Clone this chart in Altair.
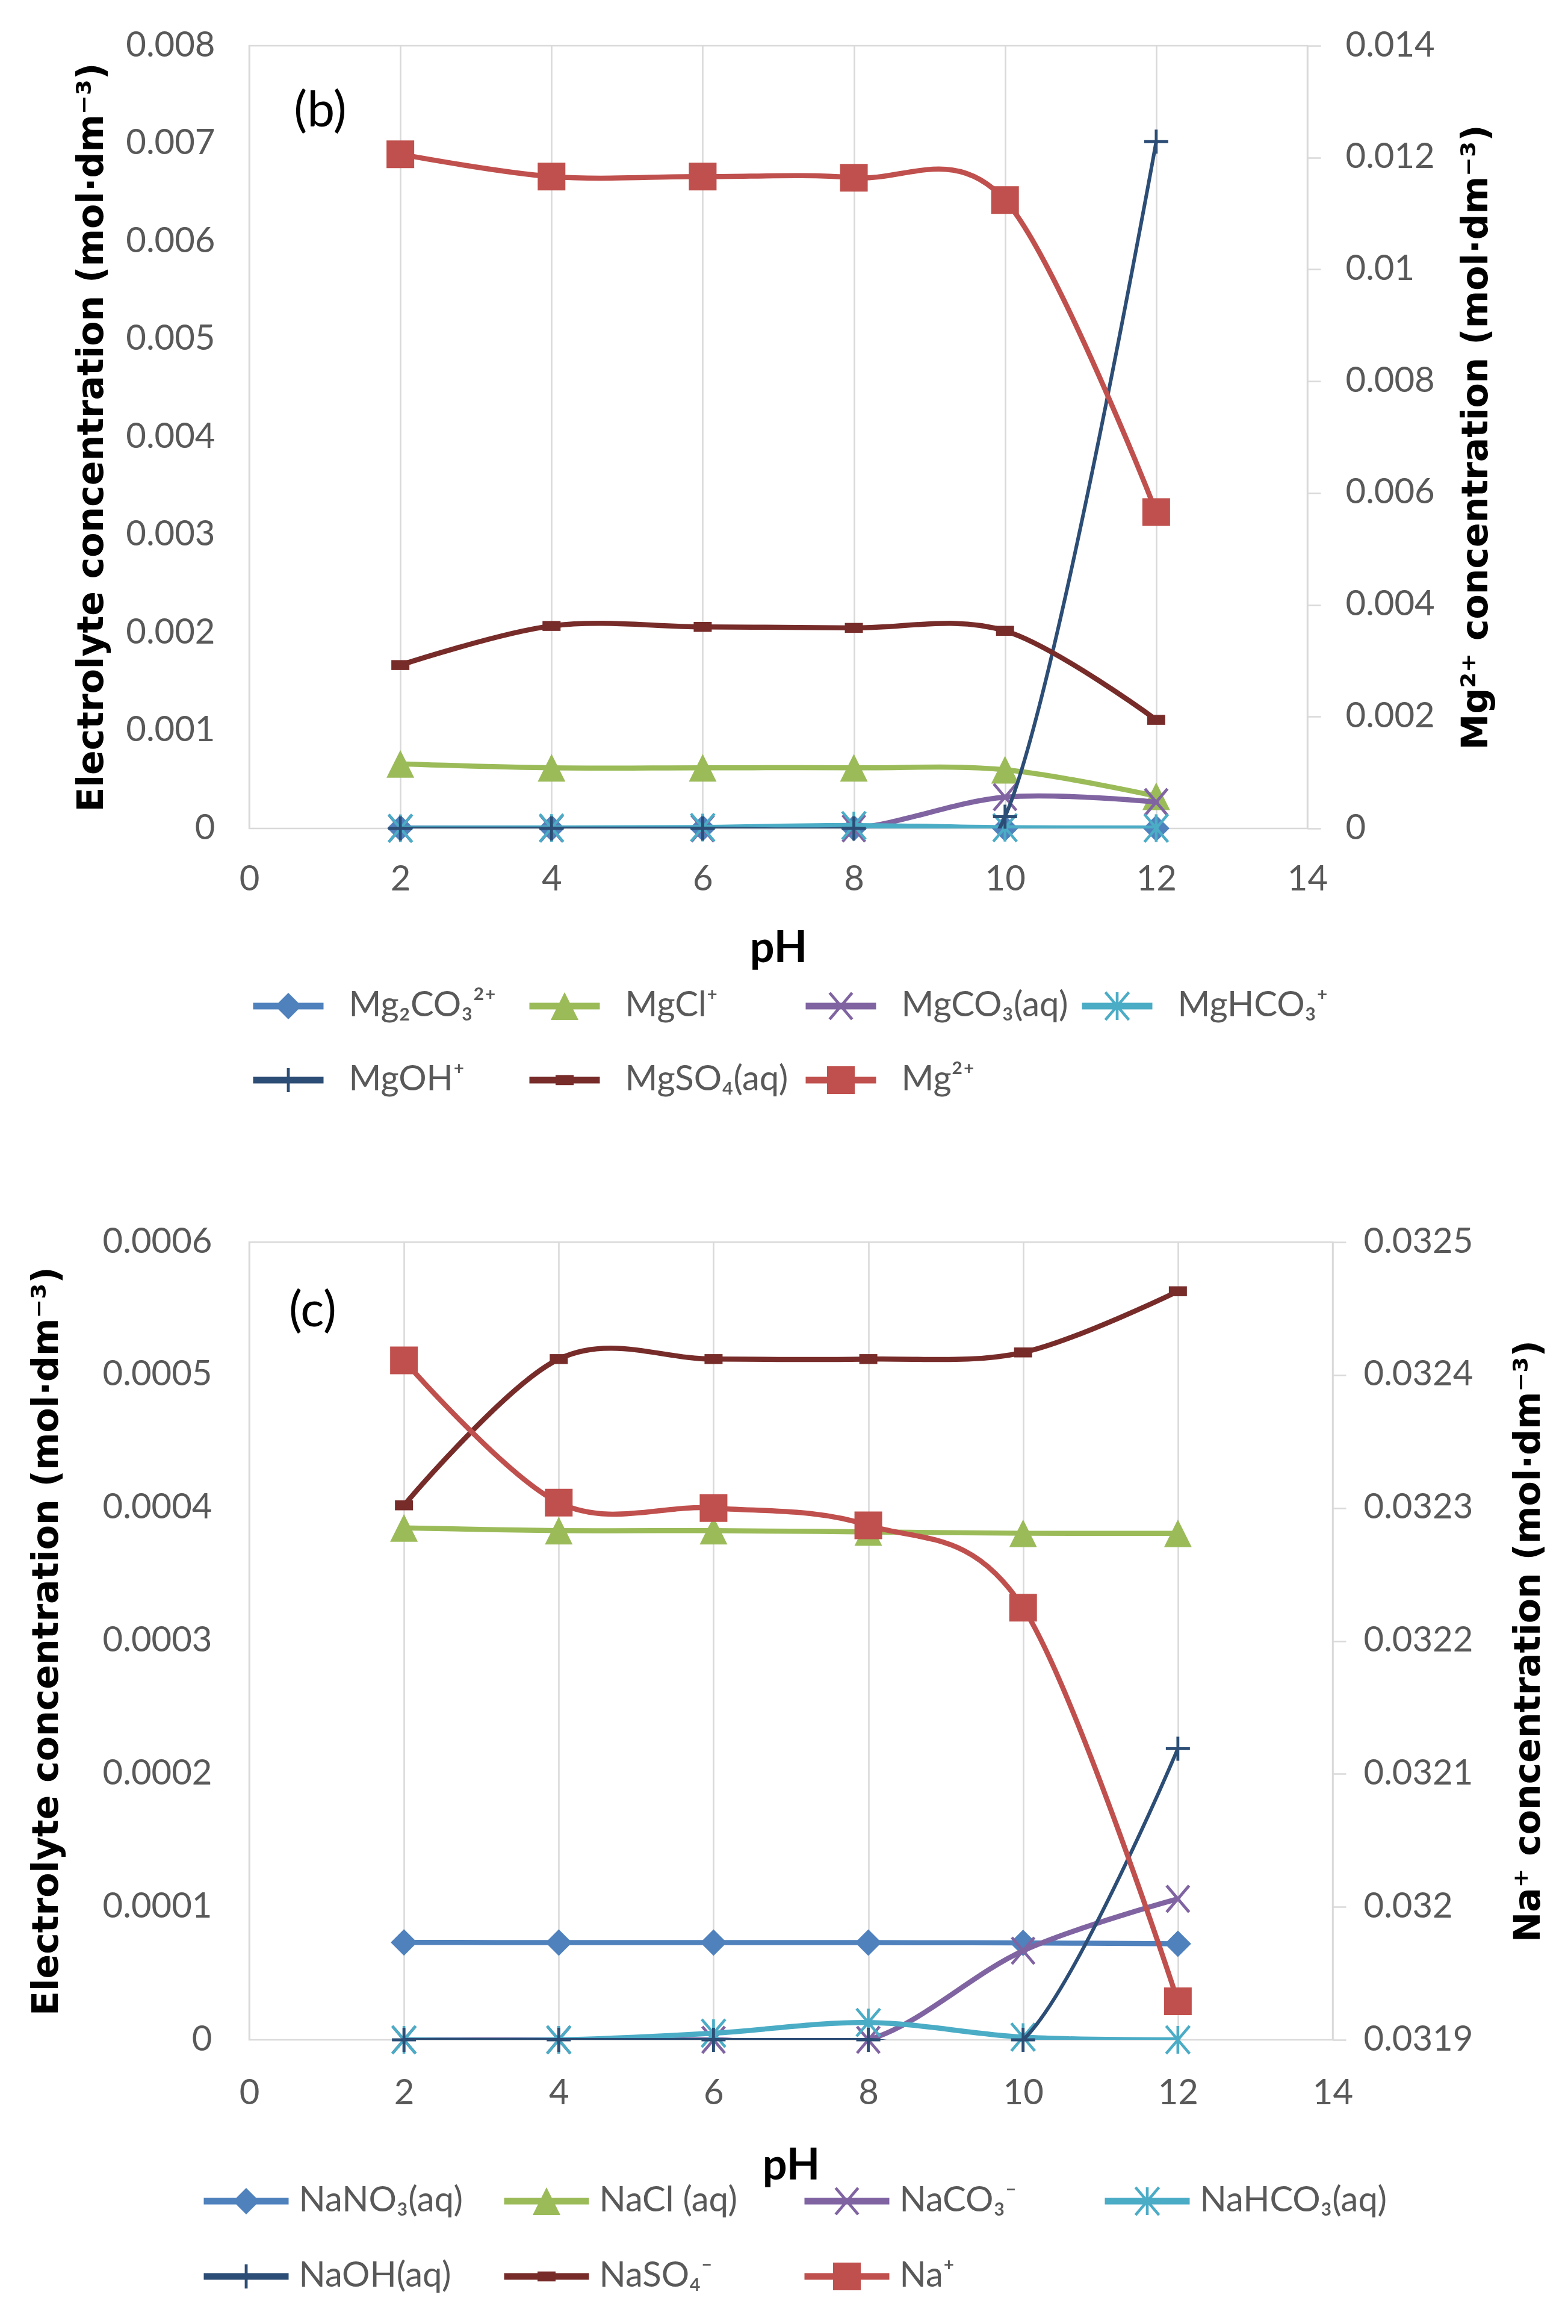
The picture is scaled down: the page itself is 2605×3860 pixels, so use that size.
import math
import altair as alt
import pandas as pd

# ---------------- data ----------------
PH = [2, 4, 6, 8, 10, 12]
X_TICKS = [0, 2, 4, 6, 8, 10, 12, 14]

# panel (b)
B_SERIES = ["Mg₂CO₃²⁺", "MgCl⁺", "MgCO₃(aq)", "MgHCO₃⁺", "MgOH⁺", "MgSO₄(aq)", "Mg²⁺"]
B_MG2CO3 = [0.000003, 0.000003, 0.000003, 0.000003, 0.000002, 0.000001]
B_MGCL = [0.00066, 0.00062, 0.00062, 0.00062, 0.00060, 0.00033]
B_MGCO3 = [0.0, 0.0, 0.0, 0.0, 0.00032, 0.00027]
B_MGHCO3 = [0.000002, 0.000004, 0.000010, 0.000030, 0.000008, 0.000003]
B_MGOH = [0.0, 0.0, 0.0, 0.0, 0.00012, 0.00702]
B_MGSO4 = [0.00167, 0.00207, 0.00206, 0.00205, 0.00202, 0.00111]
B_MG = [0.01206, 0.01166, 0.01166, 0.01164, 0.01124, 0.00566]
B_LEFT_TICKS = [0, 0.001, 0.002, 0.003, 0.004, 0.005, 0.006, 0.007, 0.008]
B_RIGHT_TICKS = [0, 0.002, 0.004, 0.006, 0.008, 0.01, 0.012, 0.014]
B_LABEL = ["(b)"]
B_LABEL_X = [0.94]
B_LABEL_Y = [0.00733]

# panel (c)
C_SERIES = ["NaNO₃(aq)", "NaCl (aq)", "NaCO₃⁻", "NaHCO₃(aq)", "NaOH(aq)", "NaSO₄⁻", "Na⁺"]
C_NANO3 = [0.0000733, 0.0000731, 0.0000731, 0.0000731, 0.0000729, 0.0000722]
C_NACL = [0.000385, 0.000383, 0.000383, 0.000382, 0.000381, 0.000381]
C_NACO3 = [0.0, 0.0, 0.0, 0.0, 0.000067, 0.000106]
C_NAHCO3 = [0.0, 0.0, 0.000005, 0.000013, 0.000002, 0.0]
C_NAOH = [0.0, 0.0, 0.0, 0.0, 0.0, 0.000219]
C_NASO4 = [0.000402, 0.000512, 0.000512, 0.000512, 0.000517, 0.000563]
C_NA = [0.032411, 0.032304, 0.032300, 0.032287, 0.032225, 0.031929]
C_LEFT_TICKS = [0, 0.0001, 0.0002, 0.0003, 0.0004, 0.0005, 0.0006]
C_RIGHT_TICKS = [0.0319, 0.032, 0.0321, 0.0322, 0.0323, 0.0324, 0.0325]
C_LABEL = ["(c)"]
C_LABEL_X = [0.82]
C_LABEL_Y = [0.000548]

# ---------------- style ----------------
COLORS = ["#4F81BD", "#9BBB59", "#8064A2", "#4BACC6", "#2C4D75", "#772C2A", "#C0504D"]
MARKERS = ["diamond", "triangle", "x", "asterisk", "plus", "dash", "square"]
MARKER_SIDE = {"diamond": 44, "triangle": 46, "x": 44, "asterisk": 46,
               "plus": 40, "dash": 30, "square": 46}
LINE_W = [8.5, 8.5, 8.5, 8.5, 6.0, 8.5, 8.5]
GRID = "#D9D9D9"
LABEL_COLOR = "#595959"
TICK_FONT = "Lato, 'DejaVu Sans', 'Noto Sans', sans-serif"
TITLE_FONT = "'DejaVu Sans', Verdana, sans-serif"
LEG_R = 55.0  # half of legend symbol box (px)


def rect(x0, y0, x1, y1):
    return [(x0, y0), (x1, y0), (x1, y1), (x0, y1)]


def bar(angle_deg, half_len, half_w):
    a = math.radians(angle_deg)
    c, s = math.cos(a), math.sin(a)
    pts = rect(-half_len, -half_w, half_len, half_w)
    return [(x * c - y * s, x * s + y * c) for x, y in pts]


def marker_polys(name):
    if name == "diamond":
        return [[(0, -1), (1, 0), (0, 1), (-1, 0)]]
    if name == "triangle":
        return [[(0, -1), (1, 1), (-1, 1)]]
    if name == "square":
        return [rect(-1, -1, 1, 1)]
    if name == "dash":
        return [rect(-1, -0.55, 1, 0.55)]
    ang = math.degrees(math.atan2(1.0, 0.85))
    hl = math.hypot(0.85, 1.0)
    if name == "x":
        return [bar(ang, hl, 0.11), bar(180 - ang, hl, 0.11)]
    if name == "asterisk":
        return [bar(ang, hl, 0.1), bar(180 - ang, hl, 0.1), bar(90, 1.0, 0.1)]
    if name == "plus":
        return [bar(0, 1.0, 0.12), bar(90, 1.0, 0.12)]
    raise ValueError(name)


def to_path(polys, k=1.0):
    out = []
    for poly in polys:
        out.append("M" + "L".join(f"{x * k:.4f},{y * k:.4f}" for x, y in poly) + "Z")
    return "".join(out)


def legend_path(name, line_len, line_w):
    side = MARKER_SIDE[name]
    k = (side / 2.0) / LEG_R
    hl = line_len / 2.0 / LEG_R
    hw = line_w / 2.0 / LEG_R
    return to_path([rect(-hl, -hw, hl, hw)]) + to_path(marker_polys(name), k)


def panel(series, arrays, left_ticks, right_ticks, left_fmt, right_fmt,
          width, height, left_title, right_title, left_title_x, right_title_x,
          left_label_pad, right_label_pad, x_label_pad, x_title_pad,
          leg_x, leg_y, leg_line, leg_label_offset, leg_col_pad, leg_row_pad,
          tag, tag_x, tag_y):
    x_enc = alt.X(
        "pH:Q",
        scale=alt.Scale(domain=[0, 14], nice=False, zero=False),
        axis=alt.Axis(values=X_TICKS, format="d", title="pH", grid=True,
                      gridColor=GRID, gridWidth=2.5, domain=False, ticks=False,
                      labelFont=TICK_FONT, labelFontSize=58, labelColor=LABEL_COLOR,
                      labelPadding=x_label_pad, labelFlush=False, labelOverlap=False,
                      labelLimit=500,
                      titleFont="Lato, 'Noto Sans', sans-serif", titleFontSize=72,
                      titleFontWeight="bold", titleColor="black",
                      titlePadding=x_title_pad),
    )
    left_axis = alt.Axis(values=left_ticks, format=left_fmt, orient="left",
                         title=left_title, grid=False, domain=False, ticks=False,
                         labelFont=TICK_FONT, labelFontSize=58, labelColor=LABEL_COLOR,
                         labelPadding=left_label_pad, labelFlush=False,
                         labelOverlap=False, labelLimit=500,
                         titleFont=TITLE_FONT, titleFontSize=60,
                         titleFontWeight="bold", titleColor="black", titleLimit=3000,
                         titleAngle=270, titleBaseline="middle", titleAlign="center",
                         titleX=left_title_x, titleY=height / 2.0)
    right_axis = alt.Axis(values=right_ticks, format=right_fmt, orient="right",
                          title=right_title, grid=False, domain=False, ticks=True,
                          tickSize=22, tickWidth=2.5, tickColor=GRID,
                          labelFont=TICK_FONT, labelFontSize=58,
                          labelColor=LABEL_COLOR, labelPadding=right_label_pad,
                          labelFlush=False, labelOverlap=False, labelLimit=500,
                          titleFont=TITLE_FONT, titleFontSize=60,
                          titleFontWeight="bold", titleColor="black", titleLimit=3000,
                          titleAngle=270, titleBaseline="middle", titleAlign="center",
                          titleX=right_title_x, titleY=height / 2.0)
    y_left = alt.Y("value:Q",
                   scale=alt.Scale(domain=[left_ticks[0], left_ticks[-1]],
                                   nice=False, zero=False),
                   axis=left_axis)
    y_right = alt.Y("value:Q",
                    scale=alt.Scale(domain=[right_ticks[0], right_ticks[-1]],
                                    nice=False, zero=False),
                    axis=right_axis)

    def series_layers(i, y_enc):
        df = pd.DataFrame({"pH": PH, "value": arrays[i]})
        name = MARKERS[i]
        line = alt.Chart(df).mark_line(
            color=COLORS[i], strokeWidth=LINE_W[i], interpolate="cardinal",
            tension=0, clip=True, strokeJoin="round", strokeCap="round",
        ).encode(x=x_enc, y=y_enc)
        pts = alt.Chart(df).mark_point(
            shape=to_path(marker_polys(name)), size=MARKER_SIDE[name] ** 2,
            filled=True, color=COLORS[i], opacity=1, strokeWidth=0,
        ).encode(x=x_enc, y=y_enc)
        return [line, pts]

    left_layers = []
    for i in range(6):
        left_layers += series_layers(i, y_left)

    # legend helper layer (invisible marks; the legend shows line + marker symbols)
    long_df = pd.DataFrame({
        "pH": [p for _ in series for p in PH],
        "value": [v for arr in arrays for v in arr],
        "series": [s for s in series for _ in PH],
    })
    leg = alt.Legend(title=None, orient="none", legendX=leg_x, legendY=leg_y,
                     direction="horizontal", columns=4, gridAlign="all",
                     columnPadding=leg_col_pad, rowPadding=leg_row_pad,
                     symbolSize=(2 * LEG_R) ** 2, symbolStrokeWidth=0,
                     symbolOpacity=1, labelFont=TICK_FONT, labelFontSize=58,
                     labelColor=LABEL_COLOR, labelOffset=leg_label_offset,
                     labelLimit=900, padding=0, symbolOffset=0)
    legend_layer = alt.Chart(long_df).mark_point(
        filled=True, opacity=0, clip=True,
    ).encode(
        x=x_enc, y=y_left,
        color=alt.Color("series:N", sort=series,
                        scale=alt.Scale(domain=series, range=COLORS), legend=leg),
        shape=alt.Shape("series:N", sort=series,
                        scale=alt.Scale(domain=series,
                                        range=[legend_path(m, leg_line, 11)
                                               for m in MARKERS]),
                        legend=leg),
    )
    tag_df = pd.DataFrame({"pH": tag_x, "value": tag_y, "label": tag})
    tag_layer = alt.Chart(tag_df).mark_text(
        font="Lato, 'Noto Sans', sans-serif", fontSize=82, color="black",
        align="center", baseline="middle",
    ).encode(x=x_enc, y=y_left, text="label:N")

    left = alt.layer(*left_layers, legend_layer, tag_layer)
    right = alt.layer(*series_layers(6, y_right))
    return alt.layer(left, right).resolve_scale(y="independent").properties(
        width=width, height=height)


top = panel(B_SERIES,
            [B_MG2CO3, B_MGCL, B_MGCO3, B_MGHCO3, B_MGOH, B_MGSO4, B_MG],
            B_LEFT_TICKS, B_RIGHT_TICKS, ".3~f", ".3~f",
            1758, 1300,
            "Electrolyte concentration (mol·dm⁻³)",
            "Mg²⁺ concentration (mol·dm⁻³)",
            -262, 280, 57, 41, 56, 50,
            10, 1540, 117, 45.5, 22, 39,
            B_LABEL, B_LABEL_X, B_LABEL_Y)

bottom = panel(C_SERIES,
               [C_NANO3, C_NACL, C_NACO3, C_NAHCO3, C_NAOH, C_NASO4, C_NA],
               C_LEFT_TICKS, C_RIGHT_TICKS, ".4~f", ".4~f",
               1800, 1325,
               "Electrolyte concentration (mol·dm⁻³)",
               "Na⁺ concentration (mol·dm⁻³)",
               -337, 325, 62, 29, 60, 56,
               -60, 1538, 141, 32.5, 30, 41,
               C_LABEL, C_LABEL_X, C_LABEL_Y)

chart = alt.vconcat(top, bottom, spacing=207).resolve_scale(
    color="independent", shape="independent"
).resolve_legend(
    color="independent", shape="independent"
).properties(
    padding={"left": 37, "top": 37, "right": 5, "bottom": 5},
    background="white",
).configure_view(stroke=GRID, strokeWidth=2.5)

chart.save("out.html", embed_options={"renderer": "svg", "actions": False})
